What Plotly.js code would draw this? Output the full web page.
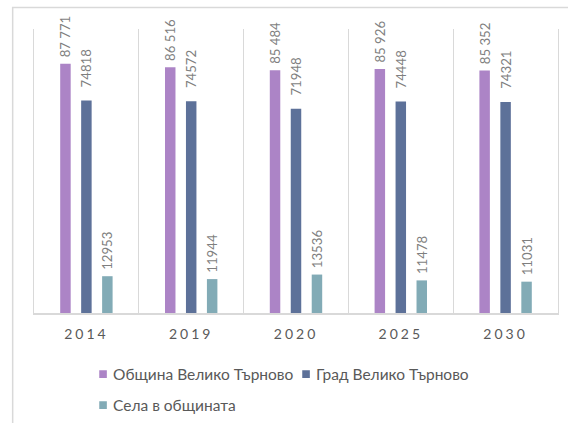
<!DOCTYPE html>
<html>
<head>
<meta charset="utf-8">
<script src="https://cdn.plot.ly/plotly-3.0.1.min.js"></script>
<style>
  html, body { margin: 0; padding: 0; background: #fff; }
  #chart { width: 568px; height: 423px; }
  .xtick text { letter-spacing: 3px; }
</style>
</head>
<body>
<div id="chart"></div>
<script>
const years = ['2014', '2019', '2020', '2025', '2030'];
const seriesNames = ['Община Велико Търново', 'Град Велико Търново', 'Села в общината'];
const municipality = [87771, 86516, 85484, 85926, 85352];
const city = [74818, 74572, 71948, 74448, 74321];
const villages = [12953, 11944, 13536, 11478, 11031];
const municipalityLabels = ['87 771', '86 516', '85 484', '85 926', '85 352'];
const cityLabels = ['74818', '74572', '71948', '74448', '74321'];
const villageLabels = ['12953', '11944', '13536', '11478', '11031'];
const colors = ['#AC84C6', '#5D7199', '#82ABB6'];

const FONT = 'Lato, "Open Sans", "DejaVu Sans", sans-serif';

function mk(name, y, labels, color, pad) {
  return {
    type: 'bar', name: name, x: years, y: y,
    text: labels, texttemplate: pad + '%{text}',
    textposition: 'outside', textangle: -90,
    constraintext: 'none', cliponaxis: false,
    textfont: { family: FONT, size: 13.2, color: '#7F7F7F' },
    marker: { color: color, line: { width: 0 } },
    hoverinfo: 'none'
  };
}

const data = [
  mk(seriesNames[0], municipality, municipalityLabels, colors[0], '\u00a0'),
  mk(seriesNames[1], city, cityLabels, colors[1], '\u00a0\u00a0\u00a0'),
  mk(seriesNames[2], villages, villageLabels, colors[2], '\u00a0')
];

const layout = {
  width: 568, height: 423,
  margin: { l: 34, r: 10.3, t: 29, b: 109.5, pad: 0, autoexpand: false },
  paper_bgcolor: '#ffffff', plot_bgcolor: '#ffffff',
  barmode: 'group', bargap: 0.4, bargroupgap: 0.5,
  showlegend: true,
  font: { family: FONT, color: '#595959' },
  xaxis: {
    type: 'category',
    showgrid: true, gridcolor: '#D9D9D9', gridwidth: 1.3,
    tickson: 'boundaries', ticks: '',
    showline: true, linecolor: '#D9D9D9', linewidth: 1.5,
    tickfont: { family: FONT, size: 14, color: '#595959' },
    ticklabelstandoff: 8,
    fixedrange: true
  },
  yaxis: {
    range: [0, 100000],
    showgrid: false, zeroline: false, showticklabels: false, ticks: '',
    showline: true, mirror: true, linecolor: '#D9D9D9', linewidth: 1.3,
    fixedrange: true
  },
  legend: {
    orientation: 'h', x: 0.0936, xanchor: 'left', y: -0.157, yanchor: 'top',
    font: { family: FONT, size: 15.5, color: '#595959' },
    entrywidth: 158, entrywidthmode: 'pixels',
    traceorder: 'normal', itemclick: false, itemdoubleclick: false,
    tracegroupgap: 0
  },
  shapes: [
    { type: 'rect', xref: 'paper', yref: 'paper',
      x0: -0.0407, x1: 1.2, y0: -0.6, y1: 1.0756,
      line: { color: '#D9D9D9', width: 1.5 }, fillcolor: 'rgba(0,0,0,0)', layer: 'below' }
  ]
};

function tweakLegend() {
  const items = Array.from(document.querySelectorAll('.legend .traces'));
  if (!items.length) return;
  items.forEach(function (g) {
    const p = g.querySelector('.legendpoints path');
    const t = g.querySelector('.legendtext');
    if (p) p.setAttribute('d', 'M3.8,3.8H-3.8V-3.8H3.8Z');
    if (t) t.setAttribute('x', '30');
  });
  // keep the two rows ~31 px apart, as in the reference
  if (items.length >= 3) {
    const y0 = items[0].querySelector('.legendpoints path').getBoundingClientRect();
    const y2 = items[2].querySelector('.legendpoints path').getBoundingClientRect();
    const c0 = (y0.top + y0.bottom) / 2, c2 = (y2.top + y2.bottom) / 2;
    const dy = (c0 + 31) - c2;
    const tr = items[2].getAttribute('transform') || '';
    const m = tr.match(/translate\(\s*([-\d.e]+)[ ,]+([-\d.e]+)\s*\)/);
    if (m) items[2].setAttribute('transform', 'translate(' + m[1] + ',' + (parseFloat(m[2]) + dy) + ')');
  }
}

Plotly.newPlot('chart', data, layout, { displayModeBar: false, staticPlot: true }).then(tweakLegend);
</script>
</body>
</html>
